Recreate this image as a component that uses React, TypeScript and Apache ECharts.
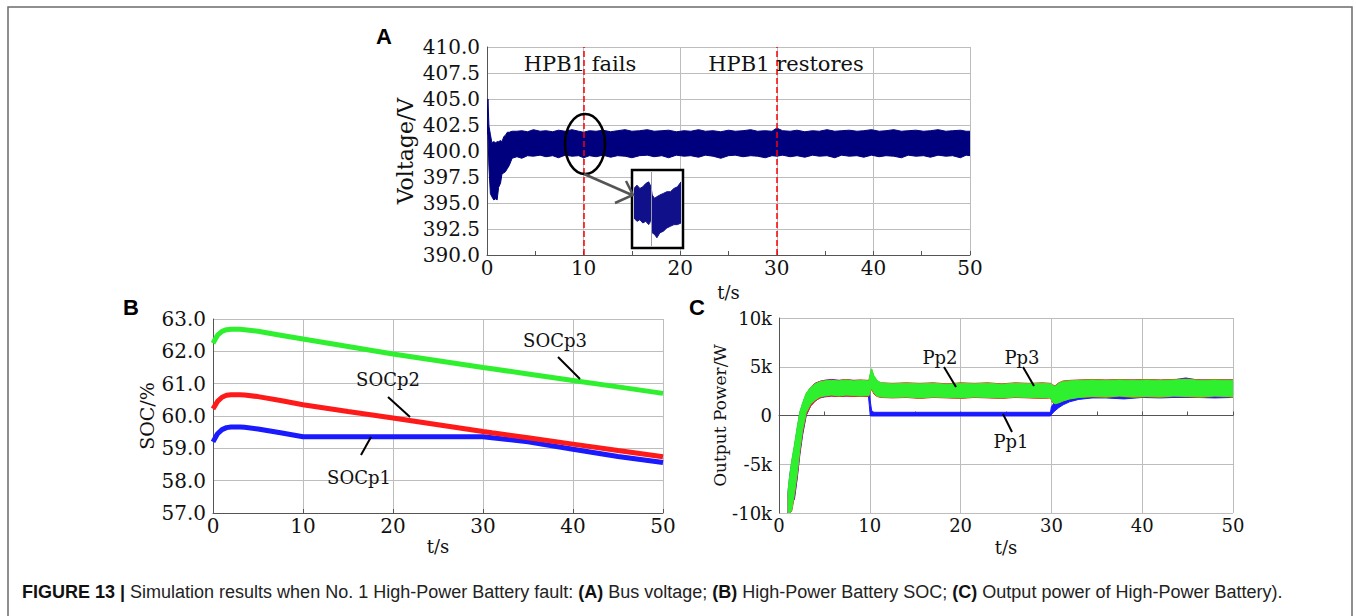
import React, { useEffect, useRef } from "react";
import * as echarts from "echarts";

// ---------- tick values / labels ----------
const timeTicks = [0, 10, 20, 30, 40, 50];
const voltageTicks = [390, 392.5, 395, 397.5, 400, 402.5, 405, 407.5, 410];
const socTicks = [57, 58, 59, 60, 61, 62, 63];
const powerTicks = [-10000, -5000, 0, 5000, 10000];
const powerTickLabels = ["-10k", "-5k", "0", "5k", "10k"];

const eventTimes = [10, 30];
const eventLabels = ["HPB1 fails", "HPB1 restores"];

// ---------- (A) bus voltage envelope: [t, low, high] ----------
const voltageBand: number[][] = [
  [0, 402.0, 402.6], [0.1, 401.5, 405.0], [0.2, 398.5, 402.4], [0.35, 395.9, 401.6],
  [0.5, 395.6, 400.8], [0.7, 395.3, 400.9], [0.9, 395.4, 400.8], [1.05, 395.3, 400.9],
  [1.2, 396.5, 400.9], [1.4, 396.9, 401.0], [1.55, 397.8, 400.9], [1.75, 397.9, 401.4],
  [1.9, 398.0, 401.5], [2.1, 398.3, 401.8], [2.3, 398.6, 401.8], [2.6, 399.3, 401.9],
  [3.1, 399.45, 401.9], [3.6, 399.3, 401.95], [4.2, 399.55, 401.85], [4.8, 399.5, 402.05],
  [5.5, 399.6, 401.9], [6.1, 399.45, 401.95], [6.8, 399.55, 401.85], [7.4, 399.35, 402.0],
  [8.1, 399.6, 401.9], [8.8, 399.5, 402.05], [9.5, 399.55, 401.9], [10.0, 399.35, 401.8],
  [10.6, 399.55, 401.95], [11.3, 399.45, 401.9], [12.0, 399.6, 402.0], [12.8, 399.4, 401.85],
  [13.5, 399.55, 401.95], [14.3, 399.5, 402.05], [15.0, 399.35, 401.9], [15.8, 399.55, 401.95],
  [16.6, 399.6, 402.05], [17.3, 399.45, 401.9], [18.1, 399.55, 401.95], [18.8, 399.35, 402.0],
  [19.6, 399.6, 401.85], [20.4, 399.5, 401.95], [21.1, 399.55, 401.9], [21.9, 399.4, 402.05],
  [22.6, 399.6, 401.9], [23.4, 399.5, 401.95], [24.2, 399.3, 401.85], [25.0, 399.55, 402.0],
  [25.7, 399.6, 401.9], [26.5, 399.45, 401.95], [27.3, 399.55, 402.05], [28.0, 399.5, 401.9],
  [28.8, 399.35, 401.95], [29.5, 399.55, 401.9], [30.0, 399.5, 402.2], [30.6, 399.6, 401.95],
  [31.4, 399.45, 401.9], [32.1, 399.55, 402.0], [32.9, 399.4, 401.85], [33.7, 399.6, 401.95],
  [34.4, 399.5, 401.9], [35.2, 399.55, 402.05], [36.0, 399.35, 401.9], [36.7, 399.6, 401.95],
  [37.5, 399.5, 402.0], [38.3, 399.55, 401.9], [39.0, 399.4, 401.95], [39.8, 399.6, 402.05],
  [40.6, 399.45, 401.9], [41.3, 399.55, 401.95], [42.1, 399.5, 402.05], [42.9, 399.35, 401.9],
  [43.6, 399.6, 401.95], [44.4, 399.5, 402.0], [45.2, 399.55, 401.9], [45.9, 399.4, 401.95],
  [46.7, 399.6, 402.05], [47.5, 399.5, 401.9], [48.2, 399.55, 401.95], [49.0, 399.35, 402.0],
  [49.6, 399.6, 401.9], [50.0, 399.55, 401.9],
];

// zoomed detail around the fault instant (inset)
const insetBand: number[][] = [
  [9.7, 399.7, 401.5], [9.75, 399.5, 401.7], [9.8, 399.6, 401.5], [9.85, 399.4, 401.6],
  [9.9, 399.5, 401.8], [9.95, 399.3, 401.9], [9.99, 399.6, 401.6], [10.01, 398.8, 401.1],
  [10.05, 398.7, 400.9], [10.09, 398.5, 401.0], [10.14, 398.8, 401.1], [10.2, 398.9, 401.2],
  [10.26, 399.1, 401.3], [10.32, 399.2, 401.3], [10.38, 399.3, 401.5], [10.44, 399.3, 401.6],
  [10.5, 399.4, 401.9],
];
const insetRange = [9.7, 10.5, 398, 402.5];

// ---------- (B) SOC ----------
const socTime = [0, 0.5, 1, 1.5, 2, 2.5, 3, 3.5, 5, 7.5, 10, 15, 20, 25, 30, 31, 35, 40, 45, 50];
const socP1 = [59.2, 59.45, 59.58, 59.64, 59.66, 59.66, 59.66, 59.65, 59.6, 59.48, 59.36, 59.36, 59.36, 59.36, 59.36, 59.33, 59.2, 58.97, 58.75, 58.56];
const socP2 = [60.22, 60.45, 60.58, 60.64, 60.66, 60.66, 60.66, 60.65, 60.6, 60.48, 60.35, 60.14, 59.94, 59.73, 59.52, 59.48, 59.33, 59.13, 58.93, 58.74];
const socP3 = [62.25, 62.5, 62.62, 62.67, 62.68, 62.68, 62.68, 62.67, 62.62, 62.5, 62.38, 62.15, 61.92, 61.71, 61.5, 61.46, 61.3, 61.1, 60.9, 60.7];

// ---------- (C) output power envelopes: [t, low, high] in W ----------
const pp1Band: number[][] = [
  [1.0, -10000, -7800], [1.2, -9000, -6000], [1.4, -8900, -4800], [1.7, -8600, -3200],
  [2.0, -6500, -1400], [2.3, -4000, 300], [2.6, -2000, 1200], [3.0, 0, 2200],
  [3.5, 1000, 2900], [4.0, 1500, 3300], [4.5, 1800, 3500], [5.0, 1900, 3600],
  [5.8, 2000, 3700], [6.6, 1950, 3600], [7.4, 2000, 3650], [8.2, 2000, 3600],
  [9.0, 1950, 3600], [9.85, 2000, 3550], [9.95, 1000, 3000], [10.05, -50, 1500],
  [10.2, -50, 500], [10.45, -50, 330], [15.0, -50, 330], [20.0, -50, 330],
  [25.0, -50, 330], [29.9, -50, 330], [30.0, 100, 900], [30.3, 400, 1300],
  [30.8, 800, 1800], [31.3, 1100, 2100], [32.0, 1400, 2600], [33.0, 1650, 3200],
  [34.5, 1800, 3600], [36.0, 1800, 3600], [38.0, 1700, 3600], [40.0, 1850, 3650],
  [42.0, 1800, 3600], [43.5, 1850, 3650], [44.8, 1850, 3850], [46.0, 1850, 3650],
  [48.0, 1800, 3600], [50.0, 1850, 3650],
];
const pp2Band: number[][] = [
  [1.0, -10000, -8000], [1.2, -10000, -6400], [1.4, -9800, -5000], [1.7, -8300, -3300],
  [2.0, -6300, -1500], [2.3, -3800, 200], [2.6, -1800, 1100], [3.0, 100, 2200],
  [3.5, 1000, 2900], [4.0, 1500, 3300], [4.5, 1800, 3500], [5.0, 1950, 3600],
  [5.8, 2000, 3650], [6.6, 1950, 3600], [7.4, 2000, 3700], [8.2, 1950, 3600],
  [9.0, 1950, 3650], [9.9, 1950, 3600], [10.05, 2400, 4200], [10.2, 2700, 4700],
  [10.45, 2200, 4000], [10.8, 1950, 3550], [11.2, 1850, 3350], [12.5, 1800, 3300],
  [14.0, 1850, 3350], [15.5, 1750, 3300], [17.0, 1850, 3350], [18.5, 1800, 3250],
  [20.0, 1750, 3350], [21.5, 1850, 3300], [23.0, 1800, 3350], [24.5, 1750, 3250],
  [26.0, 1850, 3350], [27.5, 1800, 3300], [29.0, 1750, 3350], [29.9, 1800, 3300],
  [30.1, 1350, 3150], [30.4, 1250, 3050], [30.8, 1300, 3350], [31.3, 1500, 3550],
  [32.0, 1700, 3600], [33.0, 1850, 3650], [34.5, 1900, 3700], [36.0, 1850, 3650],
  [37.5, 1950, 3700], [39.0, 1850, 3650], [40.5, 1900, 3700], [42.0, 1850, 3650],
  [43.5, 1950, 3700], [45.0, 1900, 3750], [46.5, 1850, 3650], [48.0, 1950, 3700],
  [49.5, 1900, 3650], [50.0, 1850, 3700],
];
const pp3Band: number[][] = [
  [1.0, -10000, -7600], [1.2, -10000, -6000], [1.4, -9700, -4600], [1.7, -8000, -3000],
  [2.0, -6000, -1200], [2.3, -3500, 400], [2.6, -1500, 1300], [3.0, 300, 2300],
  [3.5, 1200, 2900], [4.0, 1600, 3250], [4.5, 1900, 3450], [5.0, 2000, 3550],
  [5.8, 2100, 3600], [6.6, 2000, 3550], [7.4, 2100, 3650], [8.2, 2050, 3550],
  [9.0, 2000, 3600], [9.9, 2050, 3550], [10.05, 2500, 4300], [10.2, 2800, 4800],
  [10.45, 2300, 4100], [10.8, 2000, 3600], [11.2, 1900, 3350], [12.5, 1850, 3250],
  [14.0, 1900, 3300], [15.5, 1800, 3250], [17.0, 1900, 3300], [18.5, 1850, 3200],
  [20.0, 1800, 3300], [21.5, 1900, 3250], [23.0, 1850, 3300], [24.5, 1800, 3200],
  [26.0, 1900, 3300], [27.5, 1850, 3250], [29.0, 1800, 3300], [29.9, 1850, 3250],
  [30.1, 1400, 3100], [30.4, 1200, 3000], [30.8, 1300, 3300], [31.3, 1500, 3500],
  [32.0, 1700, 3550], [33.0, 1850, 3600], [34.5, 1950, 3650], [36.0, 1900, 3600],
  [37.5, 2000, 3650], [39.0, 1900, 3600], [40.5, 1950, 3650], [42.0, 1900, 3600],
  [43.5, 2000, 3650], [45.0, 1950, 3700], [46.5, 1900, 3600], [48.0, 2000, 3650],
  [49.5, 1950, 3600], [50.0, 1900, 3650],
];

const SERIF = "DejaVu Serif";
const GRID_COLOR = "#bdbdbd";
const AXIS_COLOR = "#555";

function band(name: string, idx: number, rows: number[][], color: string, z: number, extra: any = {}) {
  return {
    type: "custom",
    name,
    xAxisIndex: idx,
    yAxisIndex: idx,
    z,
    clip: true,
    silent: true,
    data: rows,
    encode: { x: 0, y: [1, 2] },
    renderItem: (params: any, api: any) => {
      if (params.dataIndex !== 0) return null;
      const upper = rows.map((r) => api.coord([r[0], r[2]]));
      const lower = rows.map((r) => api.coord([r[0], r[1]])).reverse();
      return {
        type: "polygon",
        shape: { points: upper.concat(lower) },
        style: { fill: color, stroke: color, lineWidth: 1 },
      };
    },
    ...extra,
  };
}

function xAxisFor(idx: number, nameGap: number, fontSize: number, minor: boolean) {
  return {
    type: "value",
    gridIndex: idx,
    min: timeTicks[0],
    max: timeTicks[timeTicks.length - 1],
    interval: timeTicks[1] - timeTicks[0],
    name: "t/s",
    nameLocation: "middle",
    nameGap,
    nameTextStyle: { fontFamily: SERIF, fontSize: 18, color: "#111" },
    axisLine: { show: true, lineStyle: { color: AXIS_COLOR, width: 1 } },
    axisTick: { show: true, inside: true, length: 4, lineStyle: { color: AXIS_COLOR } },
    minorTick: { show: minor, splitNumber: 2, length: 4, lineStyle: { color: AXIS_COLOR } },
    splitLine: { show: true, lineStyle: { color: GRID_COLOR, width: 1 } },
    axisLabel: { fontFamily: SERIF, fontSize, color: "#111", margin: 3 },
  };
}

function yAxisFor(idx: number, ticks: number[], name: string, nameGap: number, nameSize: number, fontSize: number, fmt: (v: number) => string) {
  return {
    type: "value",
    gridIndex: idx,
    min: ticks[0],
    max: ticks[ticks.length - 1],
    interval: ticks[1] - ticks[0],
    name,
    nameLocation: "middle",
    nameGap,
    nameRotate: 90,
    nameTextStyle: { fontFamily: SERIF, fontSize: nameSize, color: "#111" },
    axisLine: { show: true, lineStyle: { color: AXIS_COLOR, width: 1 } },
    axisTick: { show: false },
    splitLine: { show: true, lineStyle: { color: GRID_COLOR, width: 1 } },
    axisLabel: { fontFamily: SERIF, fontSize, color: "#111", margin: 7, formatter: fmt },
  };
}

function txt(text: string, x: number, y: number, size: number, extra: any = {}) {
  return {
    type: "text",
    x,
    y,
    z: 20,
    style: { text, font: `${size}px "${SERIF}"`, fill: "#111", align: "center", verticalAlign: "middle", ...extra },
  };
}
function seg(x1: number, y1: number, x2: number, y2: number, color = "#000", w = 2) {
  return { type: "line", z: 20, shape: { x1, y1, x2, y2 }, style: { stroke: color, lineWidth: w } };
}
function letter(t: string, x: number, y: number) {
  return {
    type: "text", x, y, z: 20,
    style: { text: t, font: 'bold 22px "Liberation Sans"', fill: "#000", align: "center", verticalAlign: "middle" },
  };
}

export default function App() {
  const ref = useRef<HTMLDivElement>(null);
  useEffect(() => {
    if (!ref.current) return;
    const chart = echarts.init(ref.current, undefined, { renderer: "svg" });
    const option: any = {
      animation: false,
      backgroundColor: "#fff",
      grid: [
        { left: 487, top: 47, width: 483, height: 208 },
        { left: 213, top: 319, width: 450, height: 194 },
        { left: 779, top: 318, width: 454, height: 195 },
        { left: 634, top: 172, width: 47, height: 74 },
      ],
      xAxis: [
        xAxisFor(0, 28, 20, true),
        xAxisFor(1, 24, 20, false),
        xAxisFor(2, 25, 18, true),
        { type: "value", gridIndex: 3, min: insetRange[0], max: insetRange[1], show: false },
      ],
      yAxis: [
        yAxisFor(0, voltageTicks, "Voltage/V", 71, 22, 20, (v) => v.toFixed(1)),
        yAxisFor(1, socTicks, "SOC/%", 57, 19, 20, (v) => v.toFixed(1)),
        yAxisFor(2, powerTicks, "Output Power/W", 45, 17, 18, (v) => powerTickLabels[powerTicks.indexOf(v)] ?? String(v)),
        { type: "value", gridIndex: 3, min: insetRange[2], max: insetRange[3], show: false },
      ],
      series: [
        band("Bus voltage", 0, voltageBand, "#00007f", 2, {
          markLine: {
            silent: true,
            symbol: ["none", "none"],
            label: { show: false },
            z: 5,
            lineStyle: { color: "#ff0000", type: [6, 3], width: 1.5, opacity: 1 },
            emphasis: { disabled: true },
            data: eventTimes.map((t) => ({ xAxis: t })),
          },
        }),
        band("Bus voltage detail", 3, insetBand, "#10108a", 3, {
          markLine: {
            silent: true,
            symbol: ["none", "none"],
            label: { show: false },
            lineStyle: { color: "#9a9aa8", type: "solid", width: 1, opacity: 1 },
            emphasis: { disabled: true },
            data: [{ xAxis: eventTimes[0] }],
          },
        }),
        {
          type: "line", name: "SOCp1", xAxisIndex: 1, yAxisIndex: 1, showSymbol: false, z: 3,
          data: socTime.map((t, i) => [t, socP1[i]]), lineStyle: { color: "#1a1aff", width: 5 },
        },
        {
          type: "line", name: "SOCp2", xAxisIndex: 1, yAxisIndex: 1, showSymbol: false, z: 4,
          data: socTime.map((t, i) => [t, socP2[i]]), lineStyle: { color: "#ff1a1a", width: 5 },
        },
        {
          type: "line", name: "SOCp3", xAxisIndex: 1, yAxisIndex: 1, showSymbol: false, z: 4,
          data: socTime.map((t, i) => [t, socP3[i]]), lineStyle: { color: "#2ef02e", width: 5 },
        },
        band("Pp1", 2, pp1Band, "#1a1aff", 2),
        band("Pp2", 2, pp2Band, "#ff1a1a", 3),
        band("Pp3", 2, pp3Band, "#2ef02e", 4),
      ],
      graphic: [
        // figure frame
        { type: "polyline", z: 0, shape: { points: [[8, 640], [8, 7], [1352, 7], [1352, 640]] }, style: { stroke: "#6b6b6b", lineWidth: 1.5, fill: "none" } },
        // inset box (white background)
        { type: "rect", z: 1, shape: { x: 632, y: 170, width: 51, height: 78 }, style: { fill: "#fff", stroke: "#000", lineWidth: 2.5 } },
        // ellipse + arrow
        { type: "ellipse", z: 20, shape: { cx: 585, cy: 144, rx: 20, ry: 30 }, style: { fill: "none", stroke: "#000", lineWidth: 2.5 } },
        seg(584, 174, 632, 195, "#555", 2.5),
        { type: "polyline", z: 20, shape: { points: [[626, 181], [633, 195], [615, 203]] }, style: { stroke: "#555", lineWidth: 2.5, fill: "none" } },
        // panel letters
        letter("A", 384, 36),
        letter("B", 131, 307),
        letter("C", 697, 307),
        // event labels
        txt(eventLabels[0], 580, 64, 21),
        txt(eventLabels[1], 786, 64, 21),
        // SOC labels
        txt("SOCp1", 359, 477, 18), seg(361, 455, 371, 437),
        txt("SOCp2", 388, 379, 18), seg(388, 397, 410, 417),
        txt("SOCp3", 555, 340, 18), seg(558, 357, 580, 379),
        // power labels
        txt("Pp2", 940, 357, 18), seg(944, 367, 956, 387),
        txt("Pp3", 1022, 357, 18), seg(1023, 367, 1034, 386),
        txt("Pp1", 1011, 441, 18), seg(1003, 414, 1012, 432),
        // caption
        {
          type: "text", x: 22, y: 592, z: 20,
          style: {
            text: "{b|FIGURE 13 |} Simulation results when No. 1 High-Power Battery fault: {b|(A)} Bus voltage; {b|(B)} High-Power Battery SOC; {b|(C)} Output power of High-Power Battery).",
            font: '18px "Liberation Sans"',
            fill: "#222",
            align: "left",
            verticalAlign: "middle",
            rich: { b: { fontWeight: "bold", fontSize: 18, fontFamily: "Liberation Sans", fill: "#111" } },
          },
        },
      ],
    };
    chart.setOption(option);
    return () => chart.dispose();
  }, []);
  return (
    <div
      ref={ref}
      style={{ position: "fixed", left: 0, top: 0, width: 1356, height: 616, background: "#fff" }}
    />
  );
}
